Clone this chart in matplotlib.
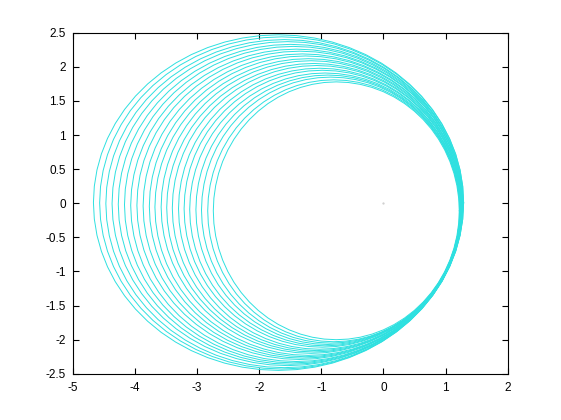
import numpy as np
import matplotlib
matplotlib.use("Agg")
import matplotlib.pyplot as plt

# Per-loop extents (outermost -> innermost)
loop_left = [-4.67, -4.57, -4.47, -4.37, -4.27, -4.17, -4.07, -3.97, -3.87, -3.77, -3.68,
             -3.58, -3.49, -3.40, -3.30, -3.21, -3.12, -3.02, -2.93, -2.83, -2.74]
loop_right = [1.29, 1.29, 1.28, 1.28, 1.28, 1.27, 1.27, 1.27, 1.26, 1.26, 1.26,
              1.25, 1.25, 1.25, 1.24, 1.24, 1.24, 1.23, 1.23, 1.23, 1.22]
loop_top = [2.47, 2.44, 2.40, 2.37, 2.33, 2.30, 2.26, 2.23, 2.19, 2.16, 2.12,
            2.09, 2.05, 2.02, 1.98, 1.95, 1.91, 1.88, 1.85, 1.81, 1.78]
loop_bottom = [-2.45, -2.43, -2.41, -2.38, -2.36, -2.34, -2.32, -2.29, -2.27, -2.25, -2.23,
               -2.20, -2.18, -2.16, -2.14, -2.11, -2.09, -2.07, -2.05, -2.03, -2.00]

xticks = [-5, -4, -3, -2, -1, 0, 1, 2]
yticks = [-2.5, -2, -1.5, -1, -0.5, 0, 0.5, 1, 1.5, 2, 2.5]
xtick_labels = ["-5", "-4", "-3", "-2", "-1", "0", "1", "2"]
ytick_labels = ["-2.5", "-2", "-1.5", "-1", "-0.5", "0", "0.5", "1", "1.5", "2", "2.5"]

plt.rcParams['font.family'] = ['Liberation Sans', 'DejaVu Sans']

fig = plt.figure(figsize=(5.61, 4.20), dpi=100)
ax = fig.add_axes([0.130, 0.110, 0.775, 0.812])

theta = np.linspace(0, 2 * np.pi, 65)
for l, r, t, b in zip(loop_left, loop_right, loop_top, loop_bottom):
    cx, a = (l + r) / 2, (r - l) / 2
    cy, bb = (t + b) / 2, (t - b) / 2
    ax.plot(cx + a * np.cos(theta), cy + bb * np.sin(theta), color='#2ee0e0', lw=0.7)

ax.plot([0], [0], marker='.', ms=1.2, color='#cccccc', lw=0)

ax.set_xlim(-5, 2)
ax.set_ylim(-2.5, 2.5)
ax.set_xticks(xticks)
ax.set_xticklabels(xtick_labels)
ax.set_yticks(yticks)
ax.set_yticklabels(ytick_labels)
ax.tick_params(direction='in', length=4, width=0.8, top=True, right=True,
               labelsize=8.5, colors='black')
ax.tick_params(axis='x', pad=6)
ax.tick_params(axis='y', pad=5)
for s in ax.spines.values():
    s.set_linewidth(0.8)
    s.set_color('black')

fig.savefig("out.png", dpi=100)
